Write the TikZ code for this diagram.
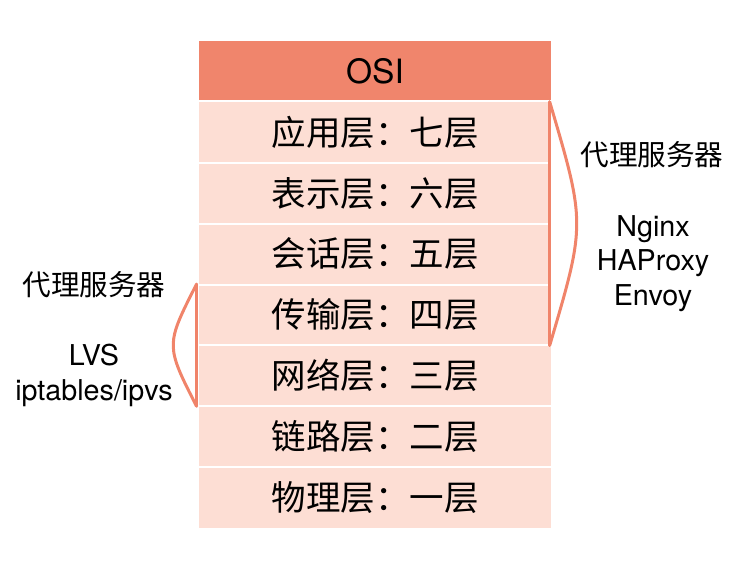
\documentclass[tikz,border=0pt]{standalone}
\usepackage{fontspec}
\usetikzlibrary{calc}
\setmainfont{TeX Gyre Heros}
\newfontfamily\cjk{Noto Sans CJK SC}
\definecolor{hdr}{HTML}{F0856C}
\definecolor{rowc}{HTML}{FDDED4}
\definecolor{brc}{HTML}{F0846A}
\tikzset{
  hdrbox/.style={rectangle, fill=hdr, minimum width=352pt, minimum height=60pt, inner sep=0pt, font=\fontsize{33.5}{36}\selectfont},
  rowbox/.style={rectangle, fill=rowc, minimum width=352pt, minimum height=60.8pt, inner sep=0pt, font=\cjk\fontsize{34.5}{36}\selectfont},
  sep/.style={white, line width=2pt},
  brace/.style={brc, line width=3pt, line cap=round, line join=round},
  lbl/.style={inner sep=0pt, align=center, font=\fontsize{28.7}{34.5}\selectfont},
  cjklbl/.style={inner sep=0pt, font=\cjk\fontsize{28.6}{32}\selectfont},
}
\begin{document}
\begin{tikzpicture}[x=1pt,y=-1pt]
\useasboundingbox (0,0) rectangle (744,582);
\node[hdrbox] (h) at (375,71) {OSI};
\node[rowbox] (r7) at (375,132.4) {应用层：七层};
\node[rowbox] (r6) at (375,193.2) {表示层：六层};
\node[rowbox] (r5) at (375,254.0) {会话层：五层};
\node[rowbox] (r4) at (375,314.8) {传输层：四层};
\node[rowbox] (r3) at (375,375.6) {网络层：三层};
\node[rowbox] (r2) at (375,436.4) {链路层：二层};
\node[rowbox] (r1) at (375,497.2) {物理层：一层};
\foreach \a/\b in {h/r7,r7/r6,r6/r5,r5/r4,r4/r3,r3/r2,r2/r1}
  \draw[sep] (\a.south west) -- (\a.south east);
% right brace
\coordinate (rt) at ([xshift=-1.5pt]r7.north east);
\coordinate (rb) at ([xshift=-1.5pt]r4.south east);
\draw[brace] (rt) -- (rb);
\draw[brace] (rt) .. controls ($(rt)!0.5!(rb)+(36,0)$) .. (rb);
% left brace
\coordinate (lt) at ([xshift=-2.3pt]r4.north west);
\coordinate (lb) at ([xshift=-2.3pt]r3.south west);
\draw[brace] (lt) -- (lb);
\draw[brace] (lt) .. controls ($(lt)!0.5!(lb)+(-31,0)$) .. (lb);
% labels
\node[cjklbl] (rl) at (652,155) {代理服务器};
\node[lbl] (rs) at (653,263.5) {Nginx\\HAProxy\\Envoy};
\node[cjklbl] (ll) at (94,285) {代理服务器};
\node[lbl] (ls) at (94,375.5) {LVS\\iptables/ipvs};
\end{tikzpicture}
\end{document}
